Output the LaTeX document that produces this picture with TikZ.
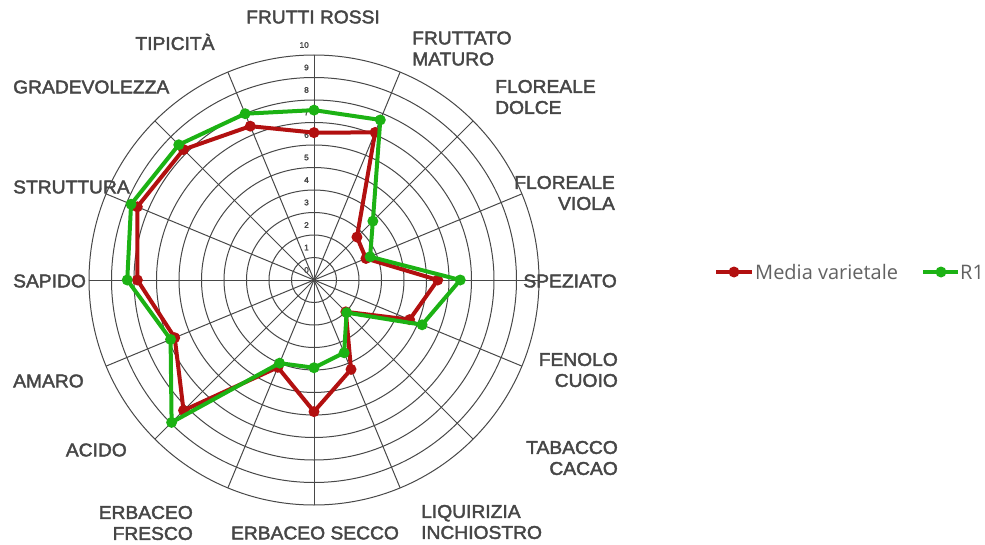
\documentclass[tikz,border=0pt]{standalone}
\usepackage{fontspec}
\setmainfont{Liberation Sans}
\newfontfamily\axisfont{Liberation Sans}[FakeStretch=1.04,FakeBold=2.2]
\newfontfamily\legendfont{Open Sans}
\definecolor{gridgray}{RGB}{72,72,72}
\definecolor{labelgray}{RGB}{70,70,70}
\definecolor{mediared}{RGB}{178,16,16}
\definecolor{rgreen}{RGB}{28,178,20}
\def\ringstep{22.5}
\def\mediavals{6.55,7.1,2.7,2.5,5.5,4.6,2.0,4.3,5.85,4.2,8.2,6.7,7.85,8.5,8.2,7.4}
\def\rvals{7.55,7.7,3.7,2.7,6.5,5.2,2.05,3.5,3.9,4.0,8.95,6.9,8.3,8.8,8.5,8.0}
\begin{document}
\begin{tikzpicture}[
        x=1pt,y=1pt,
        ring/.style={draw=gridgray,line width=1pt},
        spoke/.style={draw=gridgray,line width=1pt},
        axislabel/.style={font=\axisfont\fontsize{18.5}{21}\selectfont,text=labelgray,inner sep=0pt},
        ringnum/.style={font=\axisfont\fontsize{8}{9}\selectfont,text=labelgray,inner sep=0pt,anchor=east},
        serie/.style={line width=4pt,line join=round},
        ptdot/.style={circle,fill=#1,draw=none,inner sep=0pt,minimum size=11pt},
        legtext/.style={font=\legendfont\fontsize{20}{22}\selectfont,text=labelgray!85,anchor=west,inner sep=0pt},
        ]
    \useasboundingbox (-314,-264) rectangle (671,280);
    % grid
    \foreach \n in {1,...,10}
        \draw[ring] (0,0) circle (\n*\ringstep);
    \foreach \i in {0,...,15}
        \draw[spoke] (0,0) -- (90-22.5*\i:10*\ringstep);
    \foreach \n in {0,...,10}
        \node[ringnum] (num\n) at (-5,\n*\ringstep+10) {\n};
    % axis labels
    \node[axislabel] (frossi) at (-1,263) {FRUTTI ROSSI};
    \node[axislabel,anchor=west,align=left] (fmaturo) at (98,231.5) {FRUTTATO\\MATURO};
    \node[axislabel,anchor=west,align=left] (fdolce) at (181,183) {FLOREALE\\DOLCE};
    \node[axislabel,anchor=east,align=right] (fviola) at (301,87) {FLOREALE\\VIOLA};
    \node[axislabel,anchor=east] (speziato) at (303,-1) {SPEZIATO};
    \node[axislabel,anchor=east,align=right] (fenolo) at (304,-90) {FENOLO\\CUOIO};
    \node[axislabel,anchor=east,align=right] (tabacco) at (304,-178) {TABACCO\\CACAO};
    \node[axislabel,anchor=west,align=left] (liquirizia) at (107,-242) {LIQUIRIZIA\\INCHIOSTRO};
    \node[axislabel] (esecco) at (1,-253) {ERBACEO SECCO};
    \node[axislabel,anchor=east,align=right] (efresco) at (-121,-243) {ERBACEO\\FRESCO};
    \node[axislabel,anchor=east] (acido) at (-187,-170) {ACIDO};
    \node[axislabel,anchor=west] (amaro) at (-301,-101) {AMARO};
    \node[axislabel,anchor=west] (sapido) at (-301,-1) {SAPIDO};
    \node[axislabel,anchor=west] (struttura) at (-301,93) {STRUTTURA};
    \node[axislabel,anchor=west] (gradev) at (-301,193) {GRADEVOLEZZA};
    \node[axislabel] (tipicita) at (-139,238) {TIPICITÀ};
    % data
    \foreach \v [count=\i from 0] in \mediavals
        \coordinate (m\i) at (90-22.5*\i:\v*\ringstep);
    \foreach \v [count=\i from 0] in \rvals
        \coordinate (g\i) at (90-22.5*\i:\v*\ringstep);
    \draw[serie,mediared] (m0) \foreach \i in {1,...,15}{-- (m\i)} -- cycle;
    \foreach \i in {0,...,15}
        \node[ptdot=mediared] (md\i) at (m\i) {};
    \draw[serie,rgreen] (g0) \foreach \i in {1,...,15}{-- (g\i)} -- cycle;
    \foreach \i in {0,...,15}
        \node[ptdot=rgreen] (gd\i) at (g\i) {};
    % legend
    \coordinate (lma) at (402,8);
    \coordinate (lmb) at (438,8);
    \draw[serie,mediared] (lma) -- (lmb);
    \node[ptdot=mediared] (lmdot) at (420,8) {};
    \node[legtext] (lmtext) at (441,8) {Media varietale};
    \coordinate (lga) at (609,8);
    \coordinate (lgb) at (644,8);
    \draw[serie,rgreen] (lga) -- (lgb);
    \node[ptdot=rgreen] (lgdot) at (627,8) {};
    \node[legtext] (lgtext) at (646,8) {R1};
\end{tikzpicture}
\end{document}
